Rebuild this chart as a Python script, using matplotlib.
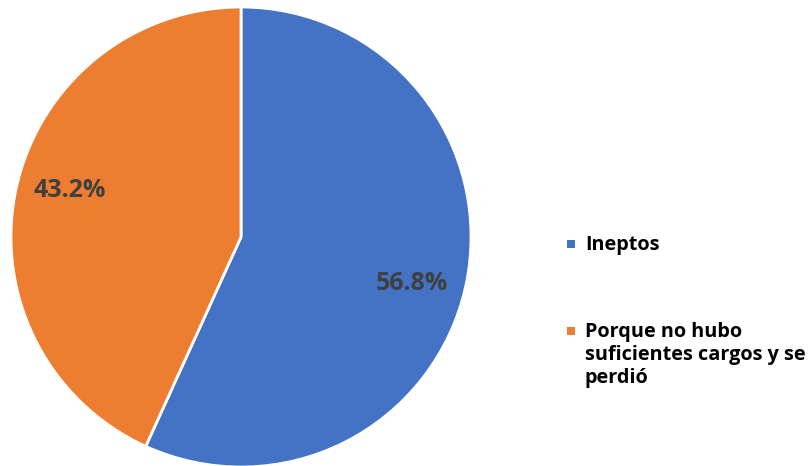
import numpy as np
import matplotlib.pyplot as plt
from matplotlib.patches import Rectangle

labels = ["Ineptos", "Porque no hubo\nsuficientes cargos y se\nperdió"]
shares = [56.8, 43.2]
colors = ["#4472C4", "#ED7D31"]

plt.rcParams["font.family"] = ["Open Sans", "DejaVu Sans"]

W, H = 809, 466
fig = plt.figure(figsize=(W / 100, H / 100), dpi=100)
ax = fig.add_axes([11 / W, -1 / H, 460 / W, 460 / H])

wedges, texts, autotexts = ax.pie(
    shares,
    colors=colors,
    startangle=90,
    counterclock=False,
    autopct="%.1f%%",
    pctdistance=0.77,
    radius=1.0,
    wedgeprops={"edgecolor": "white", "linewidth": 2},
    textprops={"fontsize": 18, "fontweight": "bold", "color": "#404040"},
)
# labels sit slightly clockwise of wedge middles in the original
for w, t in zip(wedges, autotexts):
    ang = np.deg2rad((w.theta1 + w.theta2) / 2 - 3)
    t.set_position((0.77 * np.cos(ang), 0.77 * np.sin(ang)))
ax.set_xlim(-1, 1)
ax.set_ylim(-1, 1)
ax.set_aspect("equal")

# legend, drawn by hand so the marker lines up with the first text line
rows = [(244, 245), (331, 355)]
for (marker_y, text_y), label, color in zip(rows, labels, colors):
    fig.patches.append(Rectangle(((567) / W, 1 - (marker_y + 4) / H), 8 / W, 8 / H,
                                 transform=fig.transFigure, facecolor=color,
                                 edgecolor="none"))
    fig.text(585 / W, 1 - text_y / H, label, fontsize=14.3, fontweight="bold",
             color="black", va="center", ha="left", linespacing=1.2)

fig.savefig("out.png", dpi=100)
